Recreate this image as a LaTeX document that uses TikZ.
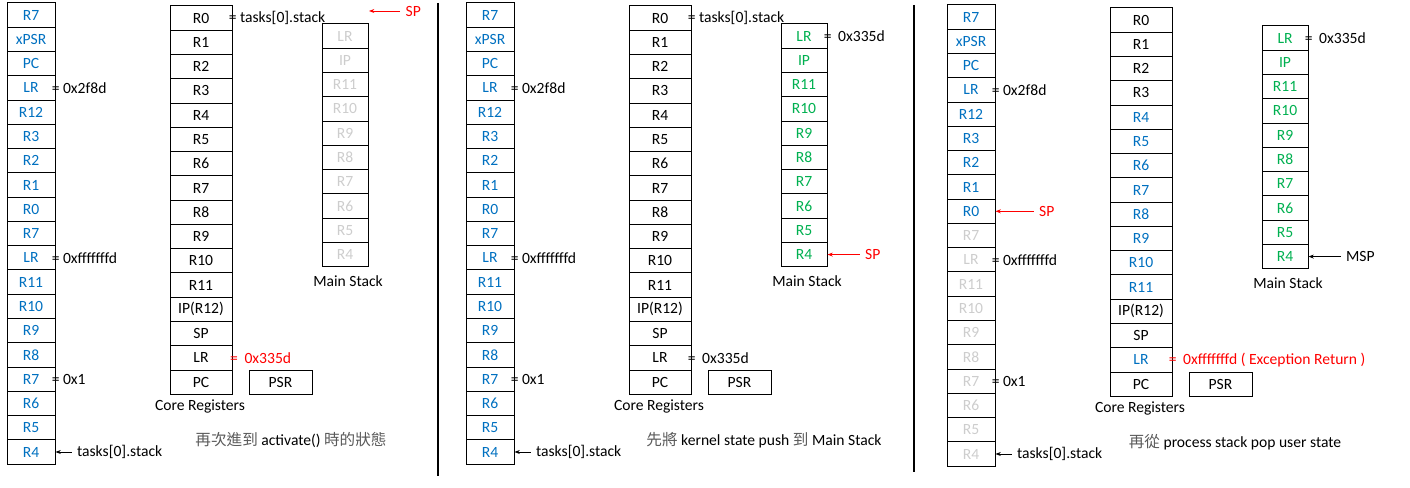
\documentclass[tikz,border=0pt]{standalone}
\usepackage{fontspec}
\setmainfont{Carlito}
\newfontfamily\cjk{Noto Sans CJK TC}
\usetikzlibrary{arrows.meta,positioning}
\definecolor{regblue}{RGB}{0,112,192}
\definecolor{reggreen}{RGB}{0,176,80}
\definecolor{fadegrey}{RGB}{205,205,205}
\definecolor{capgrey}{RGB}{90,90,90}

\begin{document}
\begin{tikzpicture}[x=0.75pt, y=-0.75pt, font=\fontsize{11.7}{13}\selectfont,
  cell/.style={draw, line width=0.75pt, inner sep=0, minimum height=18.2pt},
  pcell/.style={cell, minimum width=36pt},
  ccell/.style={cell, minimum width=46.5pt},
  mcell/.style={cell, minimum width=34.5pt},
  eqnote/.style={inner sep=0},
  ptrlabel/.style={inner sep=4pt},
  ptr/.style={-{Stealth[length=4pt,width=3pt]}, line width=0.6pt},
  sep/.style={line width=2.2pt}]
  \useasboundingbox (0,0) rectangle (1410,488);
  % Panel 1: back in activate()
  \foreach \t [count=\i] in {R7,xPSR,PC,LR,R12,R3,R2,R1,R0,R7,LR,R11,R10,R9,R8,R7,R6,R5,R4}
    \node[pcell, text=regblue] (psA\i) at (31,{3+24.27*(\i-0.5)}) {\t};
  \foreach \t [count=\i] in {R0,R1,R2,R3,R4,R5,R6,R7,R8,R9,R10,R11,IP(R12),SP,LR,PC}
    \node[ccell] (coreA\i) at (201,{6+24.27*(\i-0.5)}) {\t};
  \foreach \t [count=\i] in {LR,IP,R11,R10,R9,R8,R7,R6,R5,R4}
    \node[mcell, text=fadegrey] (msA\i) at (345,{24+24.27*(\i-0.5)}) {\t};
  \node[cell, minimum width=47.25pt, right=12pt of coreA16] (psrA) {PSR};
  \node[eqnote, right=-3pt of psA4] (lrA) {= 0x2f8d};
  \node[eqnote, right=-3pt of psA11] (excA) {= 0xfffffffd};
  \node[eqnote, right=-3pt of psA16] (rsA) {= 0x1};
  \node[eqnote, right=-3pt of coreA1] (rzA) {= tasks[0].stack};
  \node[eqnote, red, right=-2pt of coreA15] (clrA) {=\hspace{5pt}0x335d};
  \node[ptrlabel, right=12pt of psA19] (tkA) {tasks[0].stack};
  \draw[ptr] (tkA.west) -- (psA19.east);
  \coordinate (spAend) at (369,11);
  \node[ptrlabel, red, anchor=west] (spA) at (400,11) {SP};
  \draw[ptr, red] (spA.west) -- (spAend);
  \node (mslA) at (348,281) {Main Stack};
  \node (crlA) at (200,406) {Core Registers};
  \node (capA) at (291,440) {{\cjk\color{capgrey}再次進到} activate() {\cjk\color{capgrey}時的狀態}};
  \draw[sep] (438,3) -- (438,476);
  % Panel 2: push kernel state
  \begin{scope}[xshift=344.25pt]
    \foreach \t [count=\i] in {R7,xPSR,PC,LR,R12,R3,R2,R1,R0,R7,LR,R11,R10,R9,R8,R7,R6,R5,R4}
      \node[pcell, text=regblue] (psB\i) at (31,{3+24.27*(\i-0.5)}) {\t};
    \foreach \t [count=\i] in {R0,R1,R2,R3,R4,R5,R6,R7,R8,R9,R10,R11,IP(R12),SP,LR,PC}
      \node[ccell] (coreB\i) at (201,{6+24.27*(\i-0.5)}) {\t};
    \foreach \t [count=\i] in {LR,IP,R11,R10,R9,R8,R7,R6,R5,R4}
      \node[mcell, text=reggreen] (msB\i) at (345,{24+24.27*(\i-0.5)}) {\t};
    \node[cell, minimum width=47.25pt, right=12pt of coreB16] (psrB) {PSR};
    \node[eqnote, right=-3pt of psB4] (lrB) {= 0x2f8d};
    \node[eqnote, right=-3pt of psB11] (excB) {= 0xfffffffd};
    \node[eqnote, right=-3pt of psB16] (rsB) {= 0x1};
    \node[eqnote, right=-3pt of coreB1] (rzB) {= tasks[0].stack};
    \node[eqnote, right=-3pt of coreB15] (clrB) {=\hspace{5pt}0x335d};
    \node[eqnote, right=-3pt of msB1] (mlrB) {=\hspace{5pt}0x335d};
    \node[ptrlabel, right=12pt of psB19] (tkB) {tasks[0].stack};
    \draw[ptr] (tkB.west) -- (psB19.east);
    \node[ptrlabel, red, right=24pt of msB10] (spB) {SP};
    \draw[ptr, red] (spB.west) -- (msB10.east);
    \node (mslB) at (348,281) {Main Stack};
    \node (crlB) at (200,406) {Core Registers};
    \node (capB) at (305,440) {{\cjk\color{capgrey}先將} kernel state push {\cjk\color{capgrey}到} Main Stack};
  \end{scope}
  \draw[sep] (914,5) -- (914,472);
  % Panel 3: pop user state
  \begin{scope}[xshift=705pt, yshift=-1.5pt]
    \foreach \t/\c [count=\i] in {R7/regblue,xPSR/regblue,PC/regblue,LR/regblue,R12/regblue,R3/regblue,
        R2/regblue,R1/regblue,R0/regblue,R7/fadegrey,LR/fadegrey,R11/fadegrey,R10/fadegrey,
        R9/fadegrey,R8/fadegrey,R7/fadegrey,R6/fadegrey,R5/fadegrey,R4/fadegrey}
      \node[pcell, text=\c] (psC\i) at (31,{3+24.27*(\i-0.5)}) {\t};
    \foreach \t/\c [count=\i] in {R0/black,R1/black,R2/black,R3/black,R4/regblue,R5/regblue,
        R6/regblue,R7/regblue,R8/regblue,R9/regblue,R10/regblue,R11/regblue,
        IP(R12)/black,SP/black,LR/regblue,PC/black}
      \node[ccell, text=\c] (coreC\i) at (201,{6+24.27*(\i-0.5)}) {\t};
    \foreach \t [count=\i] in {LR,IP,R11,R10,R9,R8,R7,R6,R5,R4}
      \node[mcell, text=reggreen] (msC\i) at (345,{24+24.27*(\i-0.5)}) {\t};
    \node[cell, minimum width=47.25pt, right=12pt of coreC16] (psrC) {PSR};
    \node[eqnote, right=-3pt of psC4] (lrC) {= 0x2f8d};
    \node[eqnote, right=-3pt of psC11] (excC) {= 0xfffffffd};
    \node[eqnote, right=-3pt of psC16] (rsC) {= 0x1};
    \node[eqnote, red, right=-3pt of coreC15] (clrC) {=\hspace{5pt}0xfffffffd ( Exception Return )};
    \node[eqnote, right=-3pt of msC1] (mlrC) {=\hspace{5pt}0x335d};
    \node[ptrlabel, right=12pt of psC19] (tkC) {tasks[0].stack};
    \draw[ptr] (tkC.west) -- (psC19.east);
    \node[ptrlabel, red, right=28.5pt of psC9] (spC) {SP};
    \draw[ptr, red] (spC.west) -- (psC9.east);
    \node[ptrlabel, right=24pt of msC10] (mspC) {MSP};
    \draw[ptr] (mspC.west) -- (msC10.east);
    \node (mslC) at (348,281) {Main Stack};
    \node (crlC) at (200,406) {Core Registers};
    \node (capC) at (295,440) {{\cjk\color{capgrey}再從} process stack pop user state};
  \end{scope}
\end{tikzpicture}
\end{document}
